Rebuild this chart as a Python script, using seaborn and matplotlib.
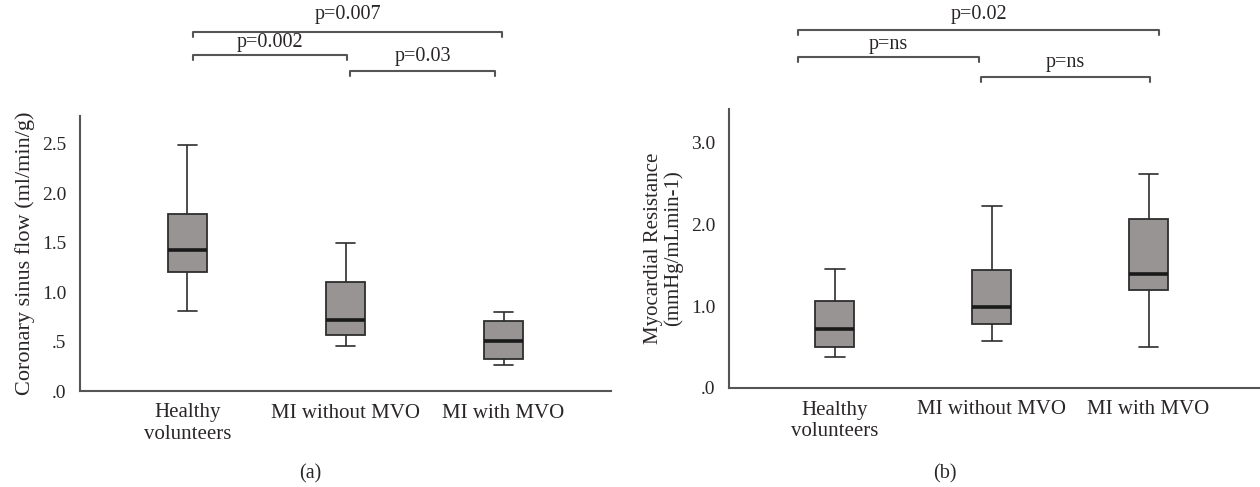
import matplotlib
matplotlib.use("Agg")
import matplotlib.pyplot as plt
from matplotlib.ticker import FuncFormatter
from matplotlib.lines import Line2D
import seaborn as sns
import pandas as pd

groups = ["Healthy\nvolunteers", "MI without MVO", "MI with MVO"]

# five-number summaries (min, q1, median, q3, max)
flow_healthy = [0.81, 1.20, 1.43, 1.79, 2.49]
flow_no_mvo = [0.45, 0.57, 0.72, 1.10, 1.50]
flow_mvo = [0.26, 0.32, 0.51, 0.705, 0.80]

res_healthy = [0.38, 0.50, 0.72, 1.06, 1.46]
res_no_mvo = [0.57, 0.78, 0.99, 1.44, 2.23]
res_mvo = [0.50, 1.20, 1.39, 2.06, 2.61]

flow_ticks = [0, 0.5, 1.0, 1.5, 2.0, 2.5]
res_ticks = [0, 1.0, 2.0, 3.0]

pvals_a = ["p=0.007", "p=0.002", "p=0.03"]
pvals_b = ["p=0.02", "p=ns", "p=ns"]


def make_df(series):
    rows = []
    for g, vals in zip(groups, series):
        for v in vals:
            rows.append({"group": g, "value": v})
    return pd.DataFrame(rows)


sns.set_style("white")
plt.rcParams["font.family"] = ["Liberation Serif", "DejaVu Serif"]
plt.rcParams["font.size"] = 14
TXT = "#2a2627"

W, H = 1260, 487
fig = plt.figure(figsize=(12.6, 4.87), dpi=100)


def px_axes(l, r, t, b):
    return fig.add_axes([l / W, 1 - b / H, (r - l) / W, (b - t) / H])


ax_a = px_axes(80, 611, 116, 391)
ax_b = px_axes(729, 1260, 109, 388)

box_kw = dict(
    x="group", y="value", whis=(0, 100), width=0.25,
    color="#999393", linecolor="#2e2e2e", linewidth=1.3, fliersize=0,
    medianprops={"color": "#1a1a1a", "linewidth": 2.6},
    whiskerprops={"color": "#2e2e2e", "linewidth": 1.2},
    capprops={"color": "#2e2e2e", "linewidth": 1.2},
)

sns.boxplot(data=make_df([flow_healthy, flow_no_mvo, flow_mvo]), ax=ax_a, **box_kw)
sns.boxplot(data=make_df([res_healthy, res_no_mvo, res_mvo]), ax=ax_b, **box_kw)


def fmt(v, pos):
    s = f"{v:.1f}"
    return s[1:] if s.startswith("0") else s


for ax, ticks, ylim, xlim, ylabel, ylsize in [
    (ax_a, flow_ticks, (0, 2.78), (-0.68, 2.68), "Coronary sinus flow (ml/min/g)", 16),
    (ax_b, res_ticks, (0, 3.41), (-0.675, 2.71), "Myocardial Resistance\n(mmHg/mLmin-1)", 15),
]:
    ax.set_ylim(*ylim)
    ax.set_xlim(*xlim)
    ax.set_yticks(ticks)
    ax.yaxis.set_major_formatter(FuncFormatter(fmt))
    ax.set_xlabel("")
    ax.set_ylabel(ylabel, fontsize=ylsize, color=TXT, linespacing=1.0)
    ax.tick_params(length=0, colors=TXT)
    ax.tick_params(axis="y", pad=10, labelsize=14)
    ax.tick_params(axis="x", pad=9, labelsize=15)
    for lab in ax.get_xticklabels():
        lab.set_linespacing(1.2)
    sns.despine(ax=ax)
    for s in ["left", "bottom"]:
        ax.spines[s].set_color("#555555")
        ax.spines[s].set_linewidth(1.5)

ax_a.yaxis.set_label_coords(-0.085, 0.5)
ax_b.yaxis.set_label_coords(-0.087, 0.5)


def bracket(x0, x1, y, label, ty):
    tick = 5
    fig.add_artist(Line2D([x0 / W, x0 / W, x1 / W, x1 / W],
                          [1 - (y + tick) / H, 1 - y / H, 1 - y / H, 1 - (y + tick) / H],
                          color="#555555", linewidth=1.5))
    fig.text((x0 + x1) / 2 / W, 1 - ty / H, label, ha="center", va="center",
             fontsize=14.5, color=TXT)


bracket(193, 502, 32, pvals_a[0], 15)
bracket(193, 347, 55, pvals_a[1], 42)
bracket(350, 495, 71, pvals_a[2], 57)

bracket(798, 1159, 30, pvals_b[0], 15)
bracket(798, 979, 57, pvals_b[1], 44)
bracket(981, 1150, 77, pvals_b[2], 63)

fig.text(310 / W, 1 - 474 / H, "(a)", ha="center", va="center", fontsize=14.5, color=TXT)
fig.text(945 / W, 1 - 474 / H, "(b)", ha="center", va="center", fontsize=14.5, color=TXT)

fig.savefig("out.png", dpi=100)
